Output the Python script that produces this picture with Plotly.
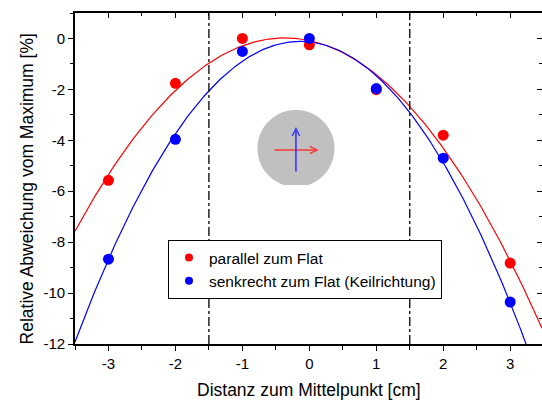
import numpy as np
import plotly.graph_objects as go

# ---------------- data ----------------
distance_cm = [-3, -2, -1, 0, 1, 2, 3]
parallel_dev = [-5.57, -1.76, 0.0, -0.25, -2.01, -3.80, -8.82]
senkrecht_dev = [-8.67, -3.96, -0.51, 0.0, -1.97, -4.70, -10.35]
series_names = ["parallel zum Flat", "senkrecht zum Flat (Keilrichtung)"]
flat_edges = [-1.5, 1.5]
x_ticks = [-3, -2, -1, 0, 1, 2, 3]
x_ticktext = ["-3", "-2", "-1", "0", "1", "2", "3"]
y_ticks = [0, -2, -4, -6, -8, -10, -12]
y_ticktext = ["0", "-2", "-4", "-6", "-8", "-10", "-12"]

# ---------------- style ----------------
FONT = "Arial, Liberation Sans, sans-serif"
RED = "#ff0000"
BLUE = "#0000ff"
X_RANGE = [-3.5, 3.475]
Y_RANGE = [-12, 1]

# quadratic fits (as in the original analysis)
xf = np.linspace(X_RANGE[0], X_RANGE[1], 300)
fit_par = np.polyval(np.polyfit(distance_cm, parallel_dev, 2), xf)
fit_sen = np.polyval(np.polyfit(distance_cm, senkrecht_dev, 2), xf)

fig = go.Figure()

fig.add_trace(go.Scatter(x=xf, y=fit_par, mode="lines", line=dict(color=RED, width=1.2),
                         showlegend=False, hoverinfo="skip"))
fig.add_trace(go.Scatter(x=xf, y=fit_sen, mode="lines", line=dict(color=BLUE, width=1.2),
                         showlegend=False, hoverinfo="skip"))
fig.add_trace(go.Scatter(x=distance_cm, y=parallel_dev, mode="markers",
                         marker=dict(color=RED, size=11), showlegend=False))
fig.add_trace(go.Scatter(x=distance_cm, y=senkrecht_dev, mode="markers",
                         marker=dict(color=BLUE, size=11), showlegend=False))
# legend entries (smaller markers)
fig.add_trace(go.Scatter(x=[None], y=[None], mode="markers", name=series_names[0],
                         marker=dict(color=RED, size=8)))
fig.add_trace(go.Scatter(x=[None], y=[None], mode="markers", name=series_names[1],
                         marker=dict(color=BLUE, size=8)))
# helper trace for mirrored axes
fig.add_trace(go.Scatter(x=[None], y=[None], xaxis="x2", yaxis="y2", showlegend=False,
                         hoverinfo="skip"))

# flat-edge reference lines
for xe in flat_edges:
    fig.add_shape(type="line", xref="x", yref="paper", x0=xe, x1=xe, y0=0, y1=1,
                  line=dict(color="black", width=1.3, dash="dashdot"))

# wafer sketch (circle with a small flat at the bottom), sized in pixels
wafer_center = (-0.2, -4.32)
r_px = 38.5
flat_px = 36.5
t0 = np.arcsin(-flat_px / r_px)
ts = np.linspace(t0, np.pi - t0, 120)
pts = [(r_px * np.cos(t), r_px * np.sin(t)) for t in ts]
path = "M " + " L ".join(f"{px:.2f},{py:.2f}" for px, py in pts) + " Z"
fig.add_shape(type="path", path=path, xsizemode="pixel", ysizemode="pixel",
              xanchor=wafer_center[0], yanchor=wafer_center[1], xref="x", yref="y",
              fillcolor="#c0c0c0", line=dict(width=0), layer="above")

# arrows inside the wafer
fig.add_annotation(x=0.14, y=-4.38, ax=-0.545, ay=-4.38, xref="x", yref="y",
                   axref="x", ayref="y", text="", showarrow=True, arrowhead=5,
                   arrowsize=0.9, arrowwidth=1.6, arrowcolor="rgba(255,40,40,0.9)")
fig.add_annotation(x=-0.2, y=-3.48, ax=-0.2, ay=-5.28, xref="x", yref="y",
                   axref="x", ayref="y", text="", showarrow=True, arrowhead=5,
                   arrowsize=0.9, arrowwidth=1.6, arrowcolor="rgba(40,40,255,0.9)")

# axis titles
fig.add_annotation(text="Relative Abweichung vom Maximum [%]", textangle=-90,
                   xref="paper", yref="paper", x=(27 - 75) / 467, y=0.467,
                   xanchor="center", yanchor="middle", showarrow=False,
                   font=dict(family=FONT, size=17.5, color="black"))
fig.add_annotation(text="Distanz zum Mittelpunkt [cm]",
                   xref="paper", yref="paper", x=0.5, y=(344 - 390) / 331,
                   xanchor="center", yanchor="middle", showarrow=False,
                   font=dict(family=FONT, size=17.5, color="black"))

axis_common = dict(showgrid=False, zeroline=False, linecolor="black", linewidth=1.6,
                   tickcolor="black", tickwidth=1.4)

fig.update_layout(
    width=542, height=400,
    margin=dict(l=75, r=0, t=13, b=56),
    paper_bgcolor="white", plot_bgcolor="white",
    font=dict(family=FONT, size=15, color="black"),
    xaxis=dict(range=X_RANGE, tickvals=x_ticks, ticktext=x_ticktext, ticks="outside",
               ticklen=5, showline=True,
               minor=dict(dtick=0.5, tick0=0, ticks="outside", ticklen=4,
                          tickcolor="black", tickwidth=1.4),
               tickfont=dict(size=15), **axis_common),
    yaxis=dict(range=Y_RANGE, tickvals=y_ticks, ticktext=y_ticktext, ticks="outside",
               ticklen=5, showline=True,
               minor=dict(dtick=1, tick0=0, ticks="outside", ticklen=3,
                          tickcolor="black", tickwidth=1.4),
               tickfont=dict(size=15), **axis_common),
    xaxis2=dict(range=X_RANGE, overlaying="x", side="top", tickvals=x_ticks,
                ticks="inside", ticklen=5, showticklabels=False, showline=True,
                minor=dict(dtick=0.5, tick0=0, ticks="inside", ticklen=3,
                           tickcolor="black", tickwidth=1.4),
                **axis_common),
    yaxis2=dict(range=Y_RANGE, overlaying="y", side="right", tickvals=y_ticks,
                ticks="inside", ticklen=5, showticklabels=False, showline=False,
                minor=dict(dtick=1, tick0=0, ticks="inside", ticklen=3,
                           tickcolor="black", tickwidth=1.4),
                **axis_common),
    legend=dict(x=(168 - 75) / 467, y=(344 - 240) / 331, xanchor="left", yanchor="top",
                bordercolor="black", borderwidth=1, bgcolor="white",
                font=dict(family=FONT, size=15.5), itemsizing="trace",
                tracegroupgap=0),
    showlegend=True,
)

fig.write_html("out.html", config={"displayModeBar": False})
